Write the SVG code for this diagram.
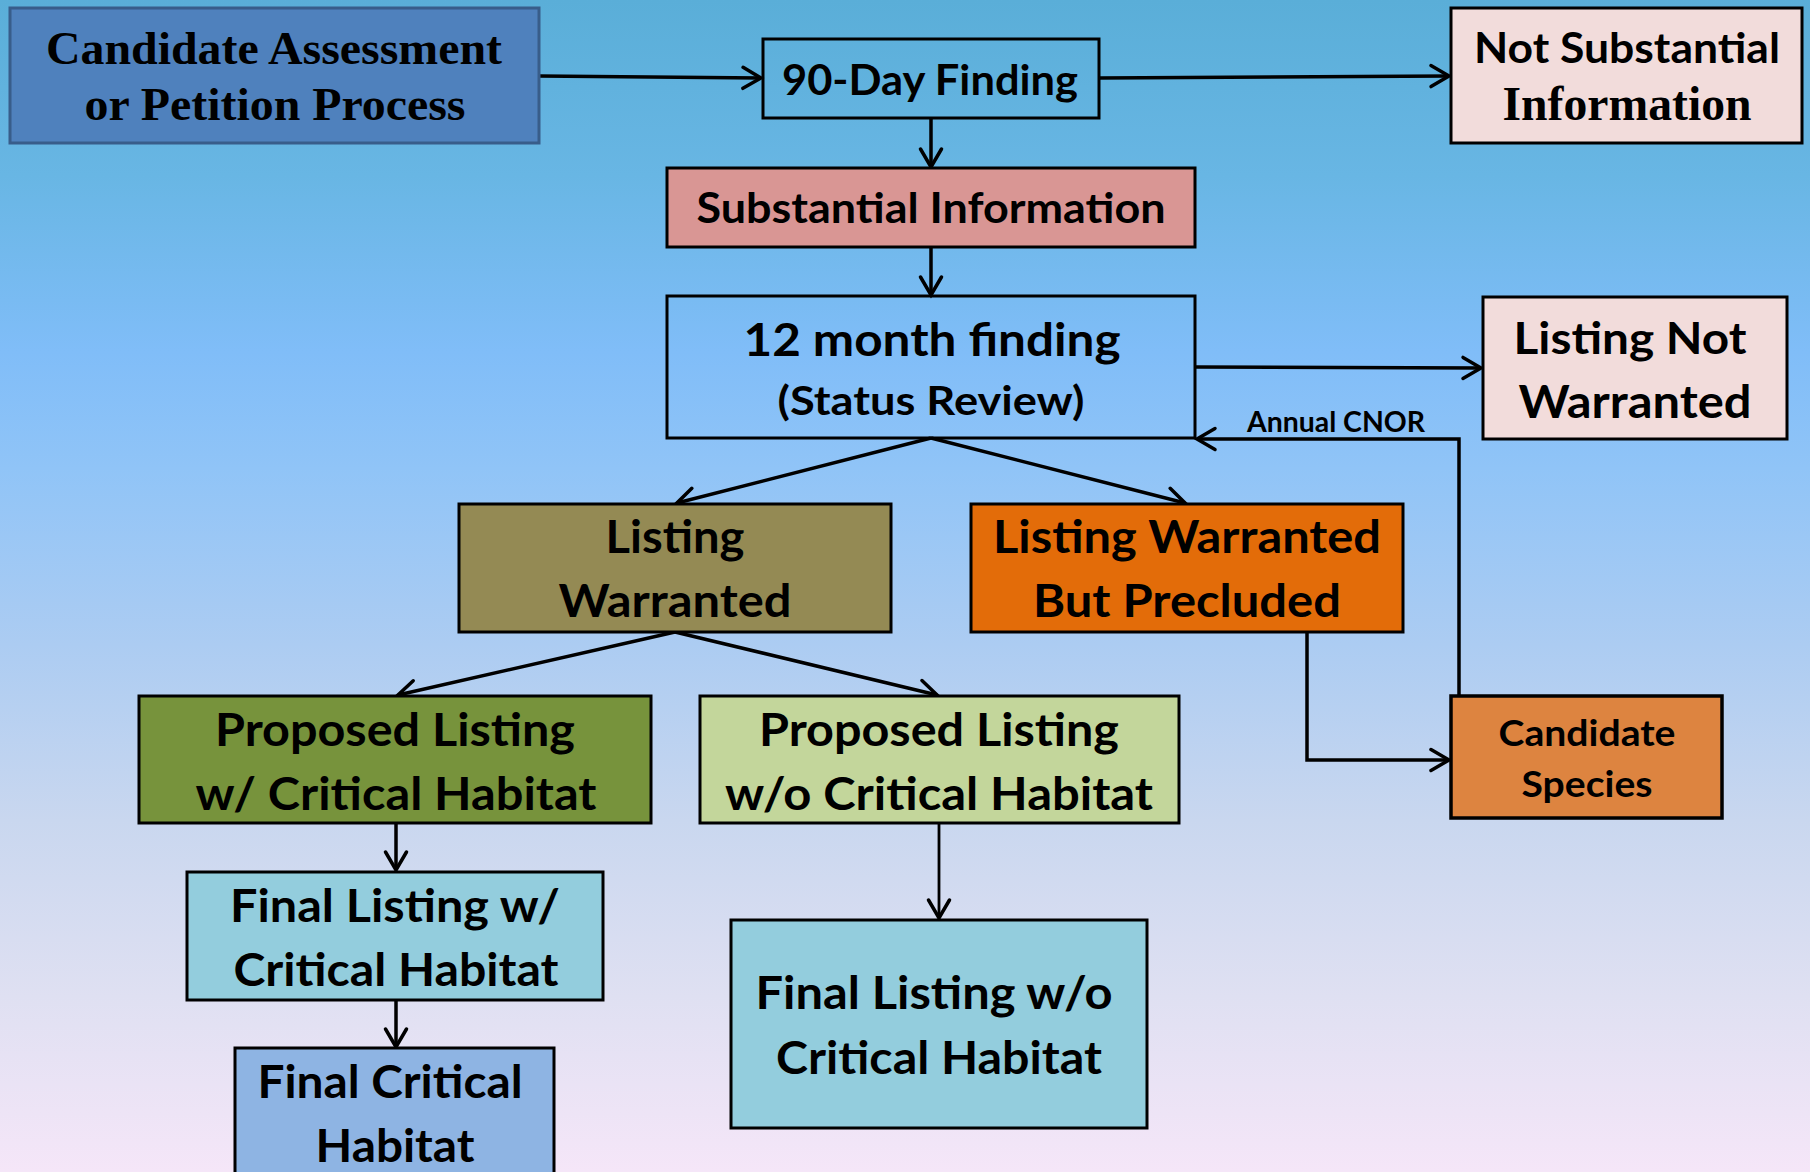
<svg xmlns="http://www.w3.org/2000/svg" width="1810" height="1172" viewBox="0 0 1810 1172">
<defs>
<linearGradient id="bg" x1="0" y1="0" x2="0" y2="1">
<stop offset="0" stop-color="#5aaed8"/>
<stop offset="0.15" stop-color="#68b6e4"/>
<stop offset="0.3" stop-color="#80bdf8"/>
<stop offset="0.4" stop-color="#90c4f7"/>
<stop offset="0.55" stop-color="#acccf2"/>
<stop offset="0.7" stop-color="#c9d7ef"/>
<stop offset="0.85" stop-color="#dfe0f2"/>
<stop offset="1" stop-color="#f5e6f8"/>
</linearGradient>
<marker id="ah" markerUnits="userSpaceOnUse" markerWidth="30" markerHeight="30" refX="19" refY="12" orient="auto" overflow="visible">
<path d="M1,1.5 L19,12 L1,22.5" fill="none" stroke="#000" stroke-width="3.5" stroke-linecap="round"/>
</marker>
</defs>
<style>
.box{stroke:#000;stroke-width:3}
.c{font-family:Lato,"Open Sans","Liberation Sans",sans-serif;font-weight:bold;fill:#000;text-anchor:middle}
.s{font-family:"Liberation Serif","Times New Roman",serif;font-weight:bold;fill:#000;text-anchor:middle}
.ln{fill:none;stroke:#000;stroke-width:3.5;marker-end:url(#ah)}
.thin{stroke-width:2.8}
</style>
<rect x="0" y="0" width="1810" height="1172" fill="url(#bg)"/>

<g id="connectors">
<path class="ln" d="M539,76 L761,78"/>
<path class="ln" d="M1099,78 L1449,76"/>
<path class="ln" d="M931,118 L931,167"/>
<path class="ln" d="M931,247 L931,295"/>
<path class="ln" d="M1195,367 L1481,368"/>
<path class="ln" d="M931,438 L677,503"/>
<path class="ln" d="M931,438 L1185,503"/>
<path class="ln" d="M675,632 L398,695"/>
<path class="ln" d="M675,632 L937,695"/>
<path class="ln" d="M1307,632 L1307,760 L1449,760"/>
<path class="ln" d="M1459,696 L1459,439 L1197,439"/>
<path class="ln" d="M396,823 L396,870"/>
<path class="ln" d="M396,1000 L396,1047"/>
<path class="ln thin" d="M939,823 L939,918"/>
<text class="c" x="1336" y="432" font-size="28" textLength="178" lengthAdjust="spacingAndGlyphs">Annual CNOR</text>
</g>

<g id="candidate-assessment">
<rect x="10" y="8" width="529" height="135" fill="#4f81bd" stroke="#385d8a" stroke-width="3"/>
<text class="s" x="274" y="64" font-size="47" textLength="456" lengthAdjust="spacingAndGlyphs">Candidate Assessment</text>
<text class="s" x="275" y="120" font-size="47" textLength="381" lengthAdjust="spacingAndGlyphs">or Petition Process</text>
</g>

<g id="ninety-day">
<rect class="box" x="763" y="39" width="336" height="79" fill="none"/>
<text class="c" x="930" y="95" font-size="42" textLength="296" lengthAdjust="spacingAndGlyphs">90-Day Finding</text>
</g>

<g id="not-substantial">
<rect class="box" x="1451" y="8" width="351" height="135" fill="#f2dcdb"/>
<text class="c" x="1627" y="63" font-size="42" textLength="306" lengthAdjust="spacingAndGlyphs">Not Substantial</text>
<text class="s" x="1627" y="120" font-size="48" textLength="249" lengthAdjust="spacingAndGlyphs">Information</text>
</g>

<g id="substantial">
<rect class="box" x="667" y="168" width="528" height="79" fill="#d99694"/>
<text class="c" x="931" y="223" font-size="42" textLength="469" lengthAdjust="spacingAndGlyphs">Substantial Information</text>
</g>

<g id="twelve-month">
<rect class="box" x="667" y="296" width="528" height="142" fill="none"/>
<text class="c" x="932" y="356" font-size="46" textLength="377" lengthAdjust="spacingAndGlyphs">12 month finding</text>
<text class="c" x="931" y="415" font-size="41" textLength="307" lengthAdjust="spacingAndGlyphs">(Status Review)</text>
</g>

<g id="listing-not-warranted">
<rect class="box" x="1483" y="297" width="304" height="142" fill="#f2dcdb"/>
<text class="c" x="1630" y="354" font-size="44" textLength="233" lengthAdjust="spacingAndGlyphs">Listing Not</text>
<text class="c" x="1635" y="418" font-size="46" textLength="233" lengthAdjust="spacingAndGlyphs">Warranted</text>
</g>

<g id="listing-warranted">
<rect class="box" x="459" y="504" width="432" height="128" fill="#948a54"/>
<text class="c" x="675" y="553" font-size="46" textLength="139" lengthAdjust="spacingAndGlyphs">Listing</text>
<text class="c" x="675" y="617" font-size="46" textLength="233" lengthAdjust="spacingAndGlyphs">Warranted</text>
</g>

<g id="warranted-precluded">
<rect class="box" x="971" y="504" width="432" height="128" fill="#e36c09"/>
<text class="c" x="1187" y="553" font-size="46" textLength="388" lengthAdjust="spacingAndGlyphs">Listing Warranted</text>
<text class="c" x="1187" y="617" font-size="46" textLength="308" lengthAdjust="spacingAndGlyphs">But Precluded</text>
</g>

<g id="proposed-with-ch">
<rect class="box" x="139" y="696" width="512" height="127" fill="#77933c"/>
<text class="c" x="395" y="746" font-size="46" textLength="360" lengthAdjust="spacingAndGlyphs">Proposed Listing</text>
<text class="c" x="396" y="810" font-size="46" textLength="401" lengthAdjust="spacingAndGlyphs">w/ Critical Habitat</text>
</g>

<g id="proposed-without-ch">
<rect class="box" x="700" y="696" width="479" height="127" fill="#c3d69b"/>
<text class="c" x="939" y="746" font-size="46" textLength="360" lengthAdjust="spacingAndGlyphs">Proposed Listing</text>
<text class="c" x="939" y="810" font-size="46" textLength="428" lengthAdjust="spacingAndGlyphs">w/o Critical Habitat</text>
</g>

<g id="candidate-species">
<rect x="1451" y="696" width="271" height="122" fill="#dd8440" stroke="#000" stroke-width="3.5"/>
<text class="c" x="1587" y="746" font-size="36" textLength="177" lengthAdjust="spacingAndGlyphs">Candidate</text>
<text class="c" x="1587" y="797" font-size="36" textLength="131" lengthAdjust="spacingAndGlyphs">Species</text>
</g>

<g id="final-with-ch">
<rect class="box" x="187" y="872" width="416" height="128" fill="#93cddd"/>
<text class="c" x="395" y="922" font-size="46" textLength="330" lengthAdjust="spacingAndGlyphs">Final Listing w/</text>
<text class="c" x="396" y="986" font-size="46" textLength="325" lengthAdjust="spacingAndGlyphs">Critical Habitat</text>
</g>

<g id="final-ch">
<rect class="box" x="235" y="1048" width="319" height="140" fill="#8eb4e3"/>
<text class="c" x="390" y="1098" font-size="46" textLength="265" lengthAdjust="spacingAndGlyphs">Final Critical</text>
<text class="c" x="395" y="1162" font-size="46" textLength="159" lengthAdjust="spacingAndGlyphs">Habitat</text>
</g>

<g id="final-without-ch">
<rect class="box" x="731" y="920" width="416" height="208" fill="#93cddd"/>
<text class="c" x="934" y="1009" font-size="46" textLength="357" lengthAdjust="spacingAndGlyphs">Final Listing w/o</text>
<text class="c" x="939" y="1074" font-size="46" textLength="326" lengthAdjust="spacingAndGlyphs">Critical Habitat</text>
</g>
</svg>
